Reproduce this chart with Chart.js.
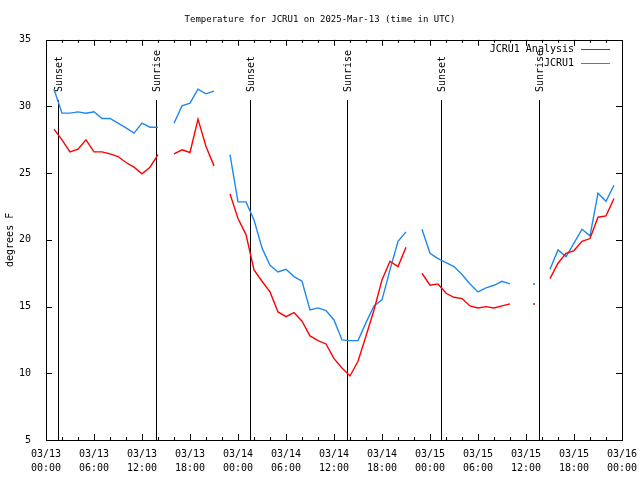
<!DOCTYPE html>
<html>
<head>
<meta charset="utf-8">
<script src="https://cdn.jsdelivr.net/npm/chart.js@4"></script>
<style>
  html, body { margin: 0; padding: 0; background: #fff; }
</style>
</head>
<body>
<canvas id="myChart" width="640" height="480"></canvas>
<script>
const ctx = document.getElementById('myChart');

// hours since 03/13 00:00 UTC
const hours = [1, 2, 3, 4, 5, 6, 7, 8, 9, 10, 11, 12, 13, 14, 15, 16, 17, 18, 19, 20,
  21, 22, 23, 24, 25, 26, 27, 28, 29, 30, 31, 32, 33, 34, 35, 36, 37, 38, 39, 40,
  41, 42, 43, 44, 45, 46, 47, 48, 49, 50, 51, 52, 53, 54, 55, 56, 57, 58, 59, 60,
  61, 62, 63, 64, 65, 66, 67, 68, 69, 70, 71];

let analysis = [28.3, 27.5, 26.6, 26.8, 27.5, 26.6, 26.6, 26.45, 26.25, 25.8, 25.45, 24.95, 25.45, 26.4,
  null,
  26.45, 26.75, 26.55, 29.05, 27.0, 25.55,
  null,
  23.45, 21.6, 20.4, 17.75, 16.9, 16.1, 14.6, 14.25, 14.55, 13.9, 12.8, 12.45, 12.2, 11.1, 10.4, 9.8,
  10.9, 12.8, 14.75, 17.0, 18.4, 18.0, 19.45,
  null,
  17.5, 16.6, 16.7, 16.0, 15.7, 15.6, 15.05, 14.9, 15.0, 14.9, 15.05, 15.2,
  null, null,
  15.2,
  null,
  17.1, 18.25, 19.0, 19.2, 19.9, 20.1, 21.7, 21.8, 23.1];

let observed = [31.3, 29.5, 29.5, 29.6, 29.5, 29.6, 29.1, 29.1, 28.75, 28.4, 28.0, 28.75, 28.45, 28.45,
  null,
  28.75, 30.05, 30.25, 31.3, 30.95, 31.15,
  null,
  26.4, 22.85, 22.85, 21.5, 19.4, 18.1, 17.6, 17.8, 17.25, 16.9, 14.75, 14.9, 14.7, 14.0, 12.5, 12.45,
  12.45, 13.8, 15.05, 15.5, 17.75, 19.9, 20.6,
  null,
  20.8, 19.0, 18.6, 18.3, 18.0, 17.4, 16.7, 16.1, 16.4, 16.6, 16.9, 16.7,
  null, null,
  16.7,
  null,
  17.8, 19.25, 18.75, 19.75, 20.8, 20.3, 23.5, 22.9, 24.1];

let xTickLabels = [['03/13', '00:00'], ['03/13', '06:00'], ['03/13', '12:00'], ['03/13', '18:00'],
  ['03/14', '00:00'], ['03/14', '06:00'], ['03/14', '12:00'], ['03/14', '18:00'],
  ['03/15', '00:00'], ['03/15', '06:00'], ['03/15', '12:00'], ['03/15', '18:00'],
  ['03/16', '00:00']];

let sunLabels = ['Sunset', 'Sunrise', 'Sunset', 'Sunrise', 'Sunset', 'Sunrise'];
let sunHours  = [1.55, 13.78, 25.55, 37.66, 49.42, 61.66];

const MONO = 'DejaVu Sans Mono';

function points(vals) {
  return hours.map((h, i) => ({ x: h, y: vals[i] }));
}

// single isolated readings get a dot so they still show
function lonely(c) {
  const d = c.dataset.data, i = c.dataIndex;
  if (d[i].y == null) return 0;
  const prev = i > 0 ? d[i - 1].y : null;
  const next = i < d.length - 1 ? d[i + 1].y : null;
  return (prev == null && next == null) ? 1 : 0;
}

// sunrise / sunset markers, frame, inward ticks and key, gnuplot style
const decor = {
  id: 'decor',
  beforeDatasetsDraw(chart) {
    const g = chart.ctx, a = chart.chartArea, xs = chart.scales.x;
    g.save();
    g.strokeStyle = '#000';
    g.lineWidth = 1;
    g.fillStyle = '#000';
    g.font = '10px ' + MONO;
    sunHours.forEach((h, i) => {
      const px = Math.round(xs.getPixelForValue(h)) + 0.5;
      g.beginPath();
      g.moveTo(px, 100);
      g.lineTo(px, a.bottom);
      g.stroke();
      g.save();
      g.translate(px + 1, 92);
      g.rotate(-Math.PI / 2);
      g.textAlign = 'left';
      g.textBaseline = 'middle';
      g.fillText(sunLabels[i], 0, 0);
      g.restore();
    });
    g.restore();
  },
  afterDraw(chart) {
    const g = chart.ctx, a = chart.chartArea;
    const xs = chart.scales.x, ys = chart.scales.y;
    g.save();
    g.strokeStyle = '#000';
    g.lineWidth = 1;
    g.strokeRect(Math.round(a.left) + 0.5, Math.round(a.top) + 0.5,
      Math.round(a.right - a.left), Math.round(a.bottom - a.top));
    g.beginPath();
    for (let h = 2; h < 72; h += 2) {
      const px = Math.round(xs.getPixelForValue(h)) + 0.5;
      const len = h % 6 === 0 ? 6 : 3;
      g.moveTo(px, a.bottom); g.lineTo(px, a.bottom - len);
      g.moveTo(px, a.top); g.lineTo(px, a.top + len);
    }
    for (let v = 10; v < 35; v += 5) {
      const py = Math.round(ys.getPixelForValue(v)) + 0.5;
      g.moveTo(a.left, py); g.lineTo(a.left + 6, py);
      g.moveTo(a.right, py); g.lineTo(a.right - 6, py);
    }
    g.stroke();

    // key
    g.font = '10px ' + MONO;
    g.textAlign = 'right';
    g.textBaseline = 'middle';
    chart.data.datasets.forEach((ds, i) => {
      const y = 49 + i * 14;
      g.fillStyle = '#000';
      g.fillText(ds.label, 574, y);
      g.strokeStyle = ds.borderColor;
      g.beginPath();
      g.moveTo(581, y + 0.5);
      g.lineTo(610, y + 0.5);
      g.stroke();
    });
    g.restore();
  }
};

new Chart(ctx, {
  type: 'line',
  data: {
    datasets: [{
      label: 'JCRU1 Analysis',
      data: points(analysis),
      borderColor: '#ff0000',
      backgroundColor: '#ff0000',
      borderWidth: 1.4,
      pointRadius: lonely,
      pointBorderWidth: 0,
      pointHoverRadius: 0,
      tension: 0,
      spanGaps: false
    }, {
      label: 'JCRU1',
      data: points(observed),
      borderColor: '#1e88ee',
      backgroundColor: '#1e88ee',
      borderWidth: 1.4,
      pointRadius: lonely,
      pointBorderWidth: 0,
      pointHoverRadius: 0,
      tension: 0,
      spanGaps: false
    }]
  },
  options: {
    responsive: false,
    animation: false,
    devicePixelRatio: 1,
    layout: { padding: 0 },
    plugins: {
      legend: { display: false },
      tooltip: { enabled: false },
      title: {
        display: true,
        text: 'Temperature for JCRU1 on 2025-Mar-13 (time in UTC)',
        color: '#000',
        font: { family: MONO, size: 9, weight: 'normal' },
        padding: { top: 14, bottom: 15 }
      }
    },
    scales: {
      x: {
        type: 'linear',
        min: 0,
        max: 72,
        grid: { display: false },
        border: { display: false },
        ticks: {
          stepSize: 6,
          autoSkip: false,
          maxRotation: 0,
          padding: -1,
          color: '#000',
          font: { family: MONO, size: 10, lineHeight: 1.4 },
          callback: (v) => xTickLabels[Math.round(v / 6)]
        },
        afterFit: (s) => { s.height = 40; s.paddingLeft = 0; s.paddingRight = 18; }
      },
      y: {
        min: 5,
        max: 35,
        grid: { display: false },
        border: { display: false },
        ticks: {
          stepSize: 5,
          padding: 7,
          color: '#000',
          font: { family: MONO, size: 10 }
        },
        title: {
          display: true,
          text: 'degrees F',
          color: '#000',
          font: { family: MONO, size: 10 },
          padding: { top: 4, bottom: 0 }
        },
        afterFit: (s) => { s.width = 46; }
      }
    }
  },
  plugins: [decor]
});
</script>
</body>
</html>
